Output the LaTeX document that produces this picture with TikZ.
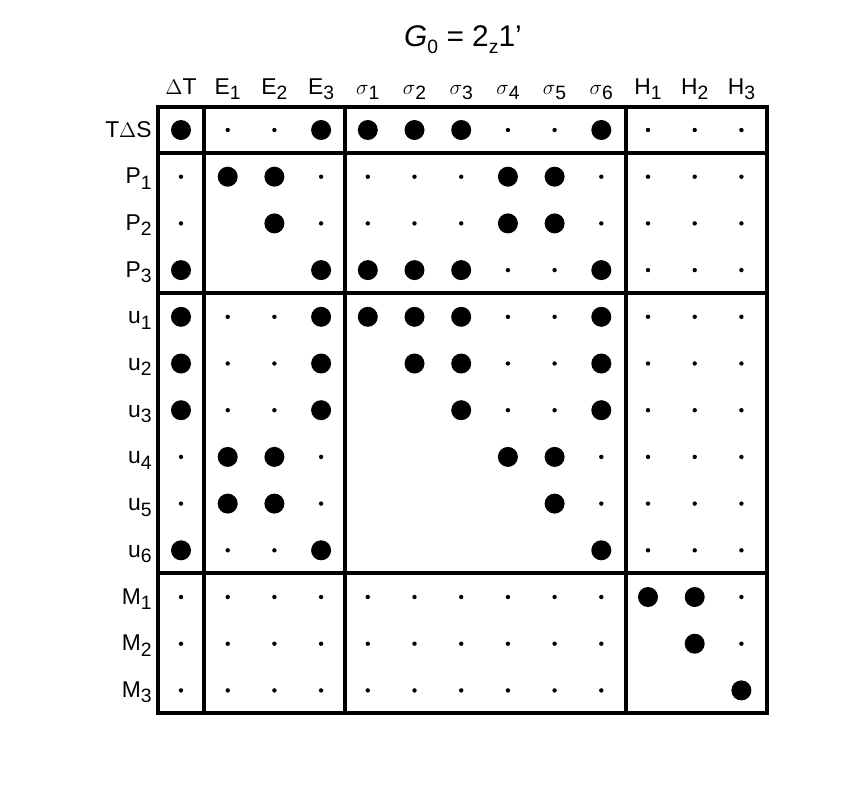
\documentclass[tikz,border=0pt]{standalone}
\usepackage{fontspec}
\setmainfont{Liberation Sans}
\usetikzlibrary{calc}

\newcommand{\lsub}[1]{\raisebox{-0.45ex}{\fontsize{11pt}{12pt}\selectfont#1}}

\tikzset{
  lbl/.style={font=\fontsize{13pt}{15pt}\selectfont,inner sep=0pt},
  frame/.style={line width=2pt}
}

\begin{document}
\begin{tikzpicture}[x=0.02cm,y=-0.02cm]
  \useasboundingbox (0,0) rectangle (856,812);

  \node[font=\fontsize{17pt}{19pt}\selectfont] (title) at (463,40) {\textit{G}\lsub{0} = 2\lsub{z}1'};

  % column heads
  \foreach \t [count=\i] in {$\Delta$T,E\lsub{1},E\lsub{2},E\lsub{3},$\sigma$\lsub{1},$\sigma$\lsub{2},$\sigma$\lsub{3},$\sigma$\lsub{4},$\sigma$\lsub{5},$\sigma$\lsub{6},H\lsub{1},H\lsub{2},H\lsub{3}}
    \node[lbl,anchor=base] (col\i) at ({181+46.7*(\i-1)},94) {\t};

  % row heads
  \foreach \t [count=\j] in {T$\Delta$S,P\lsub{1},P\lsub{2},P\lsub{3},u\lsub{1},u\lsub{2},u\lsub{3},u\lsub{4},u\lsub{5},u\lsub{6},M\lsub{1},M\lsub{2},M\lsub{3}}
    \node[lbl,anchor=base east] (row\j) at (152,{137+46.7*(\j-1)}) {\t};

  % dots: 2 = large, 1 = small, 0 = none
  \foreach \r [count=\j] in {
    {2,1,1,2,2,2,2,1,1,2,1,1,1},
    {1,2,2,1,1,1,1,2,2,1,1,1,1},
    {1,0,2,1,1,1,1,2,2,1,1,1,1},
    {2,0,0,2,2,2,2,1,1,2,1,1,1},
    {2,1,1,2,2,2,2,1,1,2,1,1,1},
    {2,1,1,2,0,2,2,1,1,2,1,1,1},
    {2,1,1,2,0,0,2,1,1,2,1,1,1},
    {1,2,2,1,0,0,0,2,2,1,1,1,1},
    {1,2,2,1,0,0,0,0,2,1,1,1,1},
    {2,1,1,2,0,0,0,0,0,2,1,1,1},
    {1,1,1,1,1,1,1,1,1,1,2,2,1},
    {1,1,1,1,1,1,1,1,1,1,0,2,1},
    {1,1,1,1,1,1,1,1,1,1,0,0,2}}
    \foreach \v [count=\i] in \r {
      \ifnum\v=2
        \fill ({181+46.7*(\i-1)},{130+46.7*(\j-1)}) circle [radius=10];
      \fi
      \ifnum\v=1
        \fill ({181+46.7*(\i-1)},{130+46.7*(\j-1)}) circle [radius=2.2];
      \fi
    };

  % frame and blocks
  \draw[frame] (158,107) rectangle (767,713);
  \foreach \x in {204,345,626}
    \draw[frame] (\x,107) -- (\x,713);
  \foreach \y in {153,293,573}
    \draw[frame] (158,\y) -- (767,\y);
\end{tikzpicture}
\end{document}
